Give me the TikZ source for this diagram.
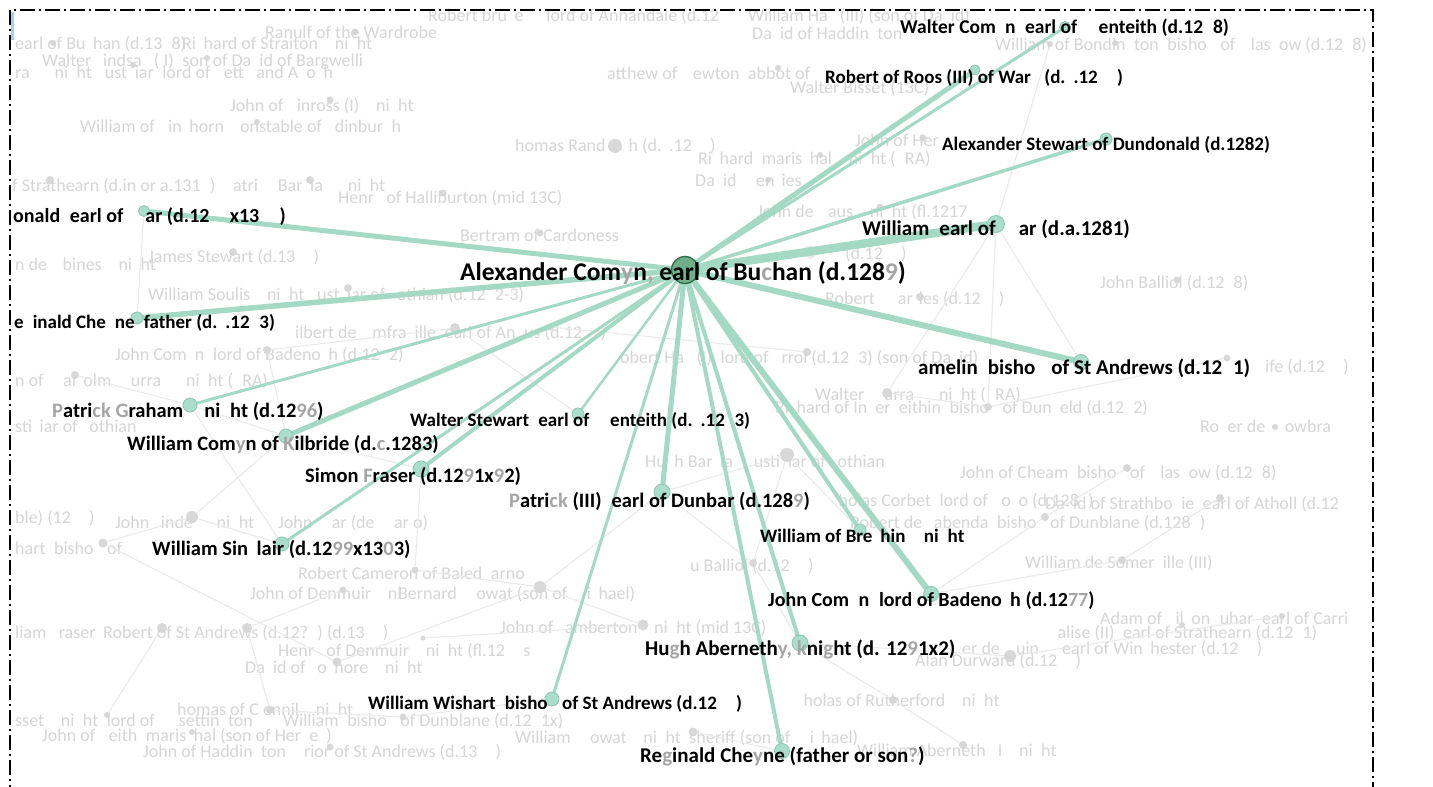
\documentclass[tikz,border=0pt]{standalone}
\usepackage{fontspec}
\setmainfont{Carlito}
\definecolor{spk}{RGB}{163,217,197}
\definecolor{nodef}{RGB}{170,221,203}
\definecolor{nodeb}{RGB}{135,200,176}
\definecolor{cenf}{RGB}{112,175,137}
\definecolor{cenb}{RGB}{45,110,70}
\definecolor{bgt}{RGB}{214,214,214}
\definecolor{bgd}{RGB}{216,216,216}
\definecolor{bgline}{RGB}{234,234,234}
\definecolor{fadec}{RGB}{165,165,165}
\definecolor{cursor}{RGB}{170,205,240}
\newcommand{\gx}[1]{\hphantom{#1}}
\newcommand{\fx}[1]{\textcolor{fadec}{#1}}
\pgfdeclarelayer{back}
\pgfdeclarelayer{edges}
\pgfsetlayers{back,edges,main}
\tikzset{
  lab/.style={font=\fontsize{#1}{#1}\selectfont\bfseries, text=black, inner sep=0pt, anchor=base west},
  lab/.default=19,
  clab/.style={font=\fontsize{25.5}{25.5}\selectfont\bfseries, text=black, inner sep=0pt, anchor=base west},
  blab/.style={font=\fontsize{18}{18}\selectfont, text=bgt, inner sep=0pt, anchor=base west},
  gnode/.style={circle, fill=nodef, draw=nodeb, line width=0.8pt, inner sep=0pt, minimum size=#1},
  gnode/.default=12pt,
  bdot/.style={circle, fill=bgd, inner sep=0pt, minimum size=#1},
  bdot/.default=7pt,
  spoke/.style={draw=spk, line width=#1, line cap=round},
  faint/.style={draw=bgline, line width=1.1pt},
  frame/.style={draw=black, line width=1.5pt, dash pattern=on 15pt off 4pt on 2pt off 4pt}
}
\begin{document}
\begin{tikzpicture}[x=1pt,y=-1pt]
\useasboundingbox (0,0) rectangle (1433,787);

% ---------- background network ----------
\begin{pgfonlayer}{back}
\fill[white] (0,0) rectangle (1433,787);
\node[bdot=7pt] (d1) at (355,32) {};
\node[bdot=6pt] (d2) at (53,43) {};
\node[bdot=6pt] (d3) at (207,58) {};
\node[bdot=6pt] (d4) at (133,65) {};
\node[bdot=7pt] (d5) at (330,100) {};
\node[bdot=6pt] (d6) at (257,122) {};
\node[bdot=8pt] (d7) at (50,180) {};
\node[bdot=8pt] (d8) at (310,180) {};
\node[bdot=7pt] (d9) at (443,193) {};
\node[bdot=6pt] (d10) at (778,68) {};
\node[bdot=14pt] (d11) at (615,146) {};
\node[bdot=6pt] (d12) at (820,155) {};
\node[bdot=6pt] (d13) at (768,180) {};
\node[bdot=7pt] (d14) at (923,138) {};
\node[bdot=6pt] (d15) at (1050,44) {};
\node[bdot=6pt] (d16) at (1115,43) {};
\node[bdot=8pt] (d17) at (233,252) {};
\node[bdot=8pt] (d18) at (348,288) {};
\node[bdot=10pt] (d19) at (455,328) {};
\node[bdot=8pt] (d20) at (267,350) {};
\node[bdot=8pt] (d21) at (75,375) {};
\node[bdot=7pt] (d22) at (540,233) {};
\node[bdot=13pt, fill=bgd!55] (d23) at (810,252) {};
\node[bdot=8pt] (d24) at (920,297) {};
\node[bdot=7pt] (d25) at (550,327) {};
\node[bdot=8pt] (d26) at (807,352) {};
\node[bdot=10pt] (d27) at (887,393) {};
\node[bdot=7pt] (d28) at (1177,280) {};
\node[bdot=7pt] (d29) at (1227,358) {};
\node[bdot=12pt] (d30) at (192,517) {};
\node[bdot=9pt] (d31) at (103,543) {};
\node[bdot=7pt] (d32) at (415,570) {};
\node[bdot=7pt] (d33) at (343,590) {};
\node[bdot=14pt] (d34) at (787,455) {};
\node[bdot=8pt] (d35) at (753,563) {};
\node[bdot=12pt] (d36) at (540,587) {};
\node[bdot=8pt] (d37) at (988,407) {};
\node[bdot=6pt] (d38) at (1275,427) {};
\node[bdot=8pt] (d39) at (1127,468) {};
\node[bdot=8pt] (d40) at (1220,498) {};
\node[bdot=8pt] (d41) at (1045,517) {};
\node[bdot=8pt] (d42) at (1122,560) {};
\node[bdot=10pt] (d43) at (162,628) {};
\node[bdot=10pt] (d44) at (247,628) {};
\node[bdot=5pt] (d45) at (423,638) {};
\node[bdot=9pt] (d46) at (337,662) {};
\node[bdot=6pt] (d47) at (107,715) {};
\node[bdot=8pt] (d48) at (270,710) {};
\node[bdot=7pt] (d49) at (403,717) {};
\node[bdot=6pt] (d50) at (192,732) {};
\node[bdot=7pt] (d51) at (330,747) {};
\node[bdot=11pt] (d52) at (643,625) {};
\node[bdot=9pt] (d53) at (693,732) {};
\node[bdot=8pt] (d54) at (893,700) {};
\node[bdot=6pt] (d55) at (1182,625) {};
\node[bdot=6pt] (d56) at (1282,616) {};
\node[bdot=12pt] (d57) at (1010,656) {};
\node[bdot=8pt] (d58) at (963,745) {};
\node[bdot=7pt] (d59) at (880,207) {};

% background labels
\node[blab] (t1) at (428,21) {Robert bru\gx{c}e\gx{,} \gx{V} lord of Annandale (d.12};
\node[blab] (t2) at (748,21) {William Ha\gx{y} (III) (son of Da\gx{v}id)};
\node[blab] (t3) at (752,39) {Da\gx{v}id of Haddin\gx{g}ton};
\node[blab] (t4) at (265,38) {Ranulf of the Wardrobe};
\node[blab] (t5) at (15,49) {earl of Bu\gx{c}han (d.13\gx{0}8)};
\node[blab] (t6) at (182,49) {Ri\gx{c}hard of Straiton\gx{,} \gx{k}ni\gx{g}ht};
\node[blab] (t7) at (42,66) {Walter \gx{L}indsa\gx{y} (\gx{I}I)\gx{,} son of Da\gx{v}id of Bargwelli};
\node[blab] (t8) at (15,78) {ra\gx{y}\gx{,} \gx{k}ni\gx{g}ht\gx{,} \gx{j}ust\gx{c}iar\gx{,} lord of \gx{P}ett\gx{y} and A\gx{v}o\gx{c}h};
\node[blab] (t9) at (230,111) {John of \gx{K}inross (I)\gx{,} \gx{k}ni\gx{g}ht};
\node[blab] (t10) at (80,132) {William of \gx{K}in\gx{c}horn\gx{,} \gx{c}onstable of \gx{E}dinbur\gx{g}h};
\node[blab] (t11) at (607,79) {atthew of \gx{N}ewton\gx{,} abbot of};
\node[blab] (t12) at (790,93) {Walter Bisset (13C)};
\node[blab] (t13) at (995,50) {William of Bondin\gx{g}ton\gx{,} bisho\gx{p} of \gx{G}las\gx{g}ow (d.12\gx{5}8)};
\node[blab] (t14) at (515,151) {homas Rand\gx{olp}h (d.\gx{c}.12\gx{62})};
\node[blab] (t15) at (855,146) {John of Her\gx{i}};
\node[blab] (t16) at (698,164) {Ri\gx{c}hard\gx{,} maris\gx{c}hal\gx{,} \gx{k}ni\gx{g}ht (\gx{P}RA)};
\node[blab] (t17) at (695,186) {Da\gx{v}id \gx{M}en\gx{z}ies};
\node[blab] (t18) at (12,191) {f Strathearn (d.in or a.131\gx{0})\gx{,} \gx{P}atri\gx{ck} Bar\gx{c}la\gx{y}\gx{,} \gx{k}ni\gx{g}ht};
\node[blab] (t19) at (338,203) {Henr\gx{y} of Halliburton (mid 13C)};
\node[blab] (t20) at (757,217) {John de \gx{V}aus\gx{,} \gx{k}ni\gx{g}ht (fl.1217};
\node[blab] (t21) at (460,241) {Bertram of Cardoness};
\node[blab] (t22) at (148,262) {James Stewart (d.13\gx{09})};
\node[blab] (t23) at (15,270) {n de \gx{U}bines\gx{,} \gx{k}ni\gx{g}ht};
\node[blab] (t24) at (845,259) {(d.12\gx{80})};
\node[blab] (t25) at (825,304) {Robert \gx{Ch}ar\gx{t}les (d.12\gx{00})};
\node[blab] (t26) at (1100,288) {John Balliol (d.12\gx{6}8)};
\node[blab] (t27) at (148,300) {William Soulis\gx{,} \gx{k}ni\gx{g}ht\gx{,} \gx{j}ust\gx{c}iar of \gx{L}othian (d.12\gx{9}2-3)};
\node[blab] (t28) at (295,338) {ilbert de \gx{U}mfra\gx{v}ille\gx{,} earl of An\gx{g}us (d.12\gx{07})};
\node[blab] (t29) at (115,360) {John Com\gx{y}n\gx{,} lord of Badeno\gx{c}h (d.12\gx{7}2)};
\node[blab] (t30) at (620,363) {obert Ha\gx{y} (I)\gx{,} lord of \gx{E}rrol (d.12\gx{6}3) (son of Da\gx{v}id)};
\node[blab] (t31) at (15,386) {n of \gx{M}al\gx{c}olm \gx{M}urra\gx{y}\gx{,} \gx{k}ni\gx{g}ht (\gx{P}RA)};
\node[blab] (t32) at (1265,372) {ife (d.12\gx{89})};
\node[blab] (t33) at (815,400) {Walter \gx{M}urra\gx{y}\gx{,} \gx{k}ni\gx{g}ht (\gx{P}RA)};
\node[blab] (t34) at (775,413) {Ri\gx{c}hard of In\gx{v}er\gx{k}eithin\gx{,} bisho\gx{p} of Dun\gx{k}eld (d.12\gx{7}2)};
\node[blab] (t35) at (1200,432) {Ro\gx{g}er de \gx{M}owbra\gx{y}};
\node[blab] (t36) at (15,432) {sti\gx{c}iar of \gx{L}othian};
\node[blab] (t37) at (645,467) {Hu\gx{g}h Bar\gx{c}la\gx{y}\gx{,} \gx{j}usti\gx{c}iar of \gx{L}othian};
\node[blab] (t38) at (960,478) {John of Cheam\gx{,} bisho\gx{p} of \gx{G}las\gx{g}ow (d.12\gx{6}8)};
\node[blab] (t39) at (815,506) {\gx{Nic}holas Corbet\gx{,} lord of \gx{C}o\gx{c}o (d.128\gx{0})};
\node[blab] (t40) at (1045,509) {Da\gx{v}id of Strathbo\gx{g}ie\gx{,} earl of Atholl (d.12};
\node[blab] (t41) at (850,528) {Robert de \gx{L}abenda\gx{,} bisho\gx{p} of Dunblane (d.128\gx{4})};
\node[blab] (t42) at (15,523) {ble) (12\gx{94})};
\node[blab] (t43) at (115,528) {John \gx{L}inde\gx{s}\gx{,} \gx{k}ni\gx{g}ht};
\node[blab] (t44) at (278,528) {John \gx{M}ar (de \gx{M}ar o)};
\node[blab] (t45) at (15,554) {hart\gx{,} bisho\gx{p} of};
\node[blab] (t46) at (1025,568) {William de Somer\gx{v}ille (III)};
\node[blab] (t47) at (298,579) {Robert Cameron of Baled\gx{g}arno};
\node[blab] (t48) at (690,571) {u Balliol (d.12\gx{68})};
\node[blab] (t49) at (250,599) {John of Denmuir\gx{,} \gx{k}ni};
\node[blab] (t50) at (398,599) {Bernard \gx{M}owat (son of \gx{M}i\gx{c}hael)};
\node[blab] (t51) at (1100,624) {Adam of \gx{K}il\gx{c}on\gx{q}uhar\gx{,} earl of Carri};
\node[blab] (t52) at (1042,638) {\gx{M}alise (II)\gx{,} earl of Strathearn (d.12\gx{7}1)};
\node[blab] (t53) at (500,633) {John of \gx{L}amberton\gx{,} \gx{k}ni\gx{g}ht (mid 13C)};
\node[blab] (t54) at (15,638) {liam \gx{F}raser};
\node[blab] (t55) at (103,638) {Robert of St Andrews (d.12?\gx{0}) (d.13\gx{00})};
\node[blab] (t56) at (278,656) {Henr\gx{y} of Denmuir\gx{,} \gx{k}ni\gx{g}ht (fl.12\gx{60}s};
\node[blab] (t57) at (962,654) {er de \gx{Q}uin\gx{cy,} earl of Win\gx{c}hester (d.12\gx{64})};
\node[blab] (t58) at (915,666) {Alan Durward (d.12\gx{75})};
\node[blab] (t59) at (245,673) {Da\gx{v}id of \gx{L}o\gx{c}hore\gx{,} \gx{k}ni\gx{g}ht};
\node[blab] (t60) at (780,706) {\gx{Nic}holas of Rutherford\gx{,} \gx{k}ni\gx{g}ht};
\node[blab] (t61) at (177,715) {homas of C\gx{l}ennil\gx{,} \gx{k}ni\gx{g}ht};
\node[blab] (t62) at (15,726) {sset\gx{,} \gx{k}ni\gx{g}ht\gx{,} lord of \gx{Ha}settin\gx{g}ton};
\node[blab] (t63) at (283,726) {William\gx{,} bisho\gx{p} of Dunblane (d.12\gx{9}1x)};
\node[blab] (t64) at (42,741) {John of \gx{K}eith\gx{,} maris\gx{c}hal (son of Her\gx{v}e\gx{y})};
\node[blab] (t65) at (143,757) {John of Haddin\gx{g}ton\gx{,} \gx{p}rior of St Andrews (d.13\gx{00})};
\node[blab] (t66) at (515,743) {William \gx{M}owat\gx{,} \gx{k}ni\gx{g}ht\gx{,} sheriff (son of \gx{M}i\gx{c}hael)};
\node[blab] (t67) at (857,756) {William Aberneth\gx{y} I\gx{,} \gx{k}ni\gx{g}ht};
\end{pgfonlayer}

% ---------- main nodes ----------
\node[circle, fill=cenf, draw=cenb, line width=1.3pt, minimum size=27pt, inner sep=0pt] (c) at (685,270) {};
\node[gnode=11pt] (n1) at (1065,27) {};
\node[gnode=10pt] (n2) at (975,70) {};
\node[gnode=12pt] (n3) at (1106,139) {};
\node[gnode=17pt] (n4) at (996,224) {};
\node[gnode=15pt] (n5) at (1081,362) {};
\node[gnode=11pt] (n6) at (144,211) {};
\node[gnode=12pt] (n7) at (137,318) {};
\node[gnode=14pt] (n8) at (190,405) {};
\node[gnode=14pt] (n9) at (286,436) {};
\node[gnode=12pt] (n10) at (578,414) {};
\node[gnode=16pt] (n11) at (421,469) {};
\node[gnode=16pt] (n12) at (662,492) {};
\node[gnode=12pt] (n13) at (860,530) {};
\node[gnode=14pt] (n14) at (282,544) {};
\node[gnode=15pt] (n15) at (931,594) {};
\node[gnode=16pt] (n16) at (800,643) {};
\node[gnode=14pt] (n17) at (552,699) {};
\node[gnode=15pt] (n18) at (782,751) {};

% faint background connectors
\begin{pgfonlayer}{back}
\draw[faint] (n6) -- (n7);
\draw[faint] (n4) -- (d27);
\draw[faint] (n4) -- (d37);
\draw[faint] (n4) -- (n5);
\draw[faint] (d15) -- (n4);
\draw[faint] (d34) -- (d35);
\draw[faint] (d35) -- (n16);
\draw[faint] (d36) -- (d52);
\draw[faint] (n16) -- (d54);
\draw[faint] (n16) -- (d57);
\draw[faint] (d54) -- (d58);
\draw[faint] (n15) -- (d41);
\draw[faint] (n15) -- (d42);
\draw[faint] (d57) -- (d56);
\draw[faint] (n13) -- (d34);
\draw[faint] (d27) -- (d37);
\draw[faint] (d39) -- (d41);
\draw[faint] (d26) -- (d25);
\draw[faint] (d19) -- (n10);
\draw[faint] (n8) -- (n9);
\draw[faint] (n9) -- (n11);
\draw[faint] (n8) -- (n14);
\draw[faint] (n14) -- (d30);
\draw[faint] (d30) -- (d31);
\draw[faint] (d31) -- (d46);
\draw[faint] (d46) -- (d36);
\draw[faint] (d32) -- (d36);
\draw[faint] (d44) -- (d48);
\draw[faint] (d48) -- (d49);
\draw[faint] (d49) -- (n17);
\draw[faint] (d53) -- (n18);
\draw[faint] (d45) -- (d52);
\draw[faint] (d43) -- (d47);
\draw[faint] (d21) -- (n8);
\draw[faint] (d19) -- (d20);
\draw[faint] (d20) -- (n9);
\draw[faint] (n11) -- (d32);
\draw[faint] (d36) -- (n12);
\draw[faint] (d34) -- (n12);
\draw[faint] (n12) -- (d35);
\draw[faint] (d40) -- (d42);
\draw[faint] (d29) -- (d37);
\draw[faint] (d30) -- (n9);
\draw[faint] (d33) -- (d44);
\end{pgfonlayer}

% ---------- spokes ----------
\begin{pgfonlayer}{edges}
\draw[spoke=3pt] (c) -- (n1);
\draw[spoke=5pt] (c) -- (n2);
\draw[spoke=3.5pt] (c) -- (n3);
\draw[spoke=8.5pt] (c) -- (n4);
\draw[spoke=6pt] (c) -- (n5);
\draw[spoke=5pt] (c) -- (n6);
\draw[spoke=5.5pt] (c) -- (n7);
\draw[spoke=3pt] (c) -- (n8);
\draw[spoke=5pt] (c) -- (n9);
\draw[spoke=2.5pt] (c) -- (n10);
\draw[spoke=4pt] (c) -- (n11);
\draw[spoke=5pt] (c) -- (n12);
\draw[spoke=4pt] (c) -- (n13);
\draw[spoke=3pt] (c) -- (n14);
\draw[spoke=6pt] (c) -- (n15);
\draw[spoke=4pt] (c) -- (n16);
\draw[spoke=3pt] (c) -- (n17);
\draw[spoke=4pt] (c) -- (n18);
\end{pgfonlayer}

% ---------- main labels ----------
\node[clab] (lc) at (460,280) {Alexander Com\fx{y}n\fx{,} earl of Bu\fx{c}han (d.128\fx{9})};
\node[lab=19.5] (l1) at (900,34) {Walter Com\gx{y}n\gx{,} earl of \gx{M}enteith (d.12\gx{9}8)};
\node[lab] (l2) at (825,83) {Robert of Roos (III) of War\gx{k} (d.\gx{c}.12\gx{58})};
\node[lab] (l3) at (942,150) {Alexander Stewart of Dundonald (d.1282)};
\node[lab=21] (l4) at (862,235) {William\gx{,} earl of \gx{M}ar (d.a.1281)};
\node[lab=21] (l5) at (918,374) {amelin\gx{,} bisho\gx{p} of St Andrews (d.12\gx{7}1)};
\node[lab=20] (l6) at (13,222) {onald\gx{,} earl of \gx{M}ar (d.12\gx{97}x13\gx{02})};
\node[lab] (l7) at (14,328) {e\gx{g}inald Che\gx{y}ne\gx{,} father (d.\gx{c}.12\gx{9}3)};
\node[lab=20.5] (l8) at (52,417) {\fx{P}atri\fx{ck G}raham\gx{,} \gx{K}ni\gx{g}ht (d.12\fx{96})};
\node[lab=20.5] (l9) at (127,450) {William Com\fx{y}n of \fx{K}ilbride (d.\fx{c}.1283)};
\node[lab] (l10) at (410,426) {Walter Stewart\gx{,} earl of \gx{M}enteith (d.\gx{c}.12\gx{9}3)};
\node[lab=20.5] (l11) at (305,482) {Simon \fx{F}raser (d.12\fx{9}1x\fx{9}2)};
\node[lab=20.5] (l12) at (509,507) {\fx{P}atri\fx{ck} (III)\gx{,} earl of Dunbar (d.128\fx{9})};
\node[lab] (l13) at (760,542) {William of Bre\gx{c}hin\gx{,} \gx{k}ni\gx{g}ht};
\node[lab=20.5] (l14) at (152,555) {William Sin\gx{c}lair (d.12\fx{99}x13\fx{0}3)};
\node[lab=20] (l15) at (768,606) {John Com\gx{y}n\gx{,} lord of Badeno\gx{c}h (d.12\fx{77})};
\node[lab=21] (l16) at (645,655) {Hu\fx{g}h Aberneth\fx{y,} \fx{k}ni\fx{g}ht (d. 12\fx{9}1x2)};
\node[lab] (l17) at (368,709) {William Wishart\gx{,} bisho\gx{p} of St Andrews (d.12\gx{79})};
\node[lab=21] (l18) at (640,762) {Re\fx{g}inald Che\fx{y}ne (father or son\fx{?})};

% ---------- frame and cursor ----------
\fill[cursor] (10.5,12) rectangle (13.5,40);
\draw[frame] (10,800) -- (10,10) -- (1373,10) -- (1373,800);
\end{tikzpicture}
\end{document}
